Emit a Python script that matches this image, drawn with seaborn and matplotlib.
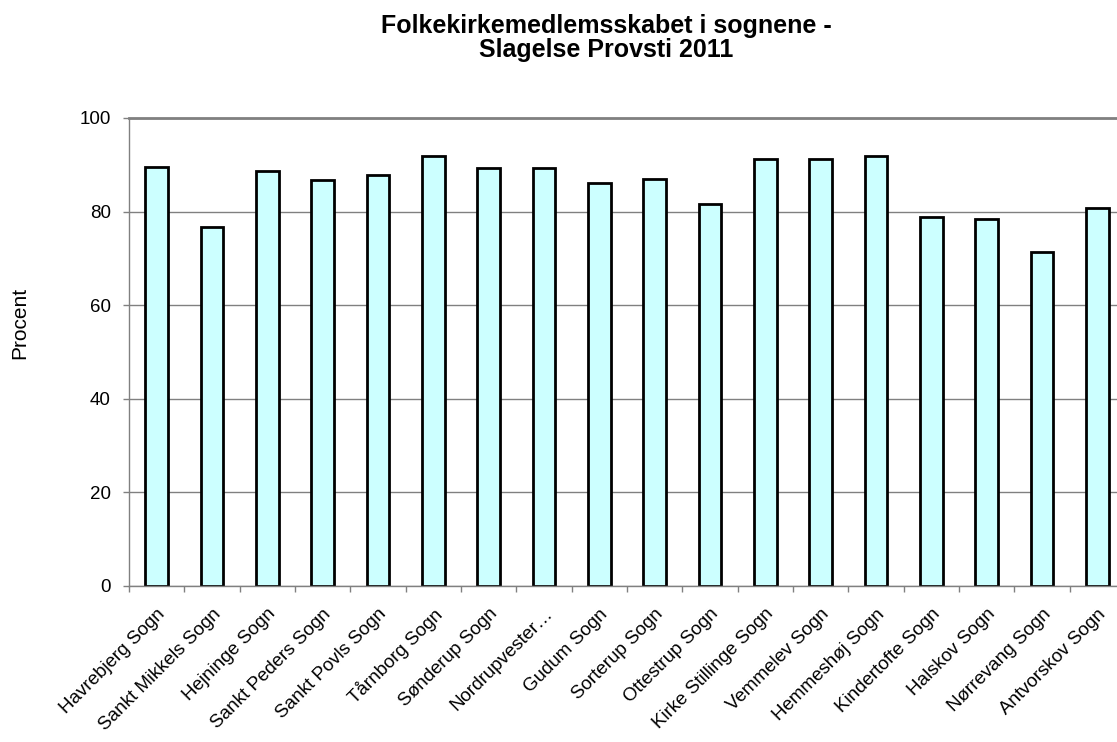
import matplotlib
matplotlib.use("Agg")
import matplotlib.pyplot as plt
import seaborn as sns
import pandas as pd
import numpy as np

categories = ["Havrebjerg Sogn", "Sankt Mikkels Sogn", "Hejninge Sogn", "Sankt Peders Sogn",
              "Sankt Povls Sogn", "Tårnborg Sogn", "Sønderup Sogn", "Nordrupvester…",
              "Gudum Sogn", "Sorterup Sogn", "Ottestrup Sogn", "Kirke Stillinge Sogn",
              "Vemmelev Sogn", "Hemmeshøj Sogn", "Kindertofte Sogn", "Halskov Sogn",
              "Nørrevang Sogn", "Antvorskov Sogn"]
values = [89.6, 76.7, 88.6, 86.8, 87.9, 91.9, 89.4, 89.4, 86.1, 87.0, 81.6, 91.3,
          91.3, 91.9, 78.9, 78.4, 71.3, 80.7]
yticks = [0, 20, 40, 60, 80, 100]

sns.set_theme(style="white")
plt.rcParams['font.family'] = ['Liberation Sans', 'DejaVu Sans']

df = pd.DataFrame({"Sogn": categories, "Procent": values})

fig = plt.figure(figsize=(11.17, 7.42), dpi=100)
ax = fig.add_axes([129/1117, 1 - 586/742, (1125 - 129)/1117, (586 - 118)/742])

sns.barplot(data=df, x="Sogn", y="Procent", ax=ax, color="#CCFFFF",
            edgecolor="black", linewidth=2, width=0.41, saturation=1)

ax.set_ylim(0, 100)
ax.set_xlim(-0.5, len(categories) - 0.5)
ax.set_yticks(yticks)
ax.set_yticklabels([str(t) for t in yticks], fontsize=13.5, color="black")
ax.yaxis.grid(True, color="#808080", linewidth=1)
ax.set_axisbelow(True)

ax.set_xticks(np.arange(len(categories)))
ax.set_xticklabels(categories, rotation=45, ha="right", rotation_mode="anchor",
                   fontsize=13.5, color="black")
ax.tick_params(axis="x", which="major", length=0, pad=14)
ax.set_xticks(np.arange(len(categories) + 1) - 0.5, minor=True)
ax.tick_params(axis="x", which="minor", length=4.5, color="#808080", width=1, direction="out", bottom=True)
ax.tick_params(axis="y", length=4.5, color="#808080", width=1, direction="out", left=True, pad=8.5)

for s in ["left", "bottom"]:
    ax.spines[s].set_color("#808080")
    ax.spines[s].set_linewidth(1)
ax.spines["top"].set_color("#808080")
ax.spines["top"].set_linewidth(2)
ax.spines["right"].set_visible(False)

ax.set_xlabel("")
ax.set_ylabel("")
fig.text(20/1117, 1 - 323/742, "Procent", rotation=90, ha="center", va="center",
         fontsize=15, color="black")

fig.text(606/1117, 1 - 38/742, "Folkekirkemedlemsskabet i sognene -\nSlagelse Provsti 2011",
         ha="center", va="center", fontsize=18, fontweight="bold", linespacing=1.0,
         color="black")

fig.savefig("out.png", dpi=100)
